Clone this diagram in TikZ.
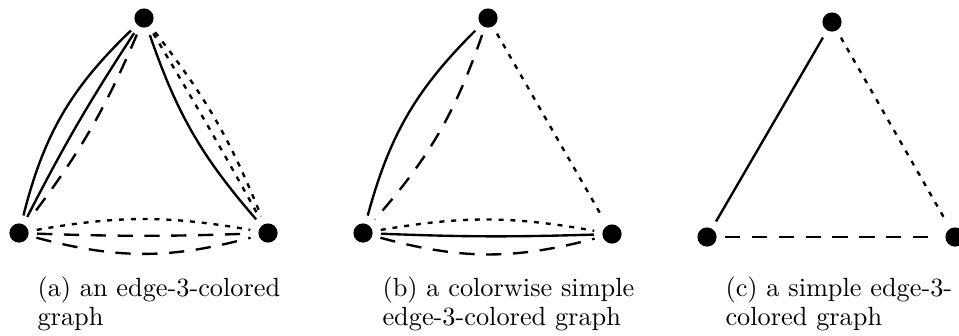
\documentclass[tikz,border=0pt]{standalone}
\begin{document}
\begin{tikzpicture}[x=0.38pt,y=0.38pt,
  vtx/.style={circle, fill=black, inner sep=0pt, minimum size=7.3pt, outer sep=3.2pt},
  edge/.style={line width=0.9pt},
  dsh/.style={edge, dash pattern=on 5.8pt off 4.4pt},
  dtt/.style={edge, dash pattern=on 1.9pt off 2.6pt},
  captxt/.style={anchor=base west, inner sep=0pt}]
\useasboundingbox (0,0) rectangle (959,335);
% (a)
\node[vtx] (Ta) at (144,317) {};
\node[vtx] (La) at (19,102) {};
\node[vtx] (Ra) at (268,102) {};
\draw[edge] (Ta) to[bend right=16] (La);
\draw[edge] (Ta) to[bend right=3] (La);
\draw[dsh] (Ta) to[bend left=7] (La);
\draw[edge] (Ta) to[bend right=11] (Ra);
\draw[dtt] (Ta) to[bend left=1] (Ra);
\draw[dtt] (Ta) to[bend left=8] (Ra);
\draw[dtt] (La) to[bend left=10] (Ra);
\draw[dsh] (La) to[bend right=2] (Ra);
\draw[dsh] (La) to[bend right=15] (Ra);
\node[captxt] (ca1) at (37,39) {(a) an edge-3-colored};
\node[captxt] (ca2) at (37,9.5) {graph};
% (b)
\node[vtx] (Tb) at (488,317) {};
\node[vtx] (Lb) at (363,102) {};
\node[vtx] (Rb) at (612,101) {};
\draw[edge] (Tb) to[bend right=15] (Lb);
\draw[dsh] (Tb) to[bend left=11] (Lb);
\draw[dtt] (Tb) -- (Rb);
\draw[dtt] (Lb) to[bend left=10] (Rb);
\draw[edge] (Lb) to[bend right=2] (Rb);
\draw[dsh] (Lb) to[bend right=15] (Rb);
\node[captxt] (cb1) at (382,39) {(b) a colorwise simple};
\node[captxt] (cb2) at (382,9.5) {edge-3-colored graph};
% (c)
\node[vtx] (Tc) at (832,313) {};
\node[vtx] (Lc) at (707,98) {};
\node[vtx] (Rc) at (955,98) {};
\draw[edge] (Tc) -- (Lc);
\draw[dtt] (Tc) -- (Rc);
\draw[dsh] (Lc) -- (Rc);
\node[captxt] (cc1) at (725,39) {(c) a simple edge-3-};
\node[captxt] (cc2) at (725,9.5) {colored graph};
\end{tikzpicture}
\end{document}
